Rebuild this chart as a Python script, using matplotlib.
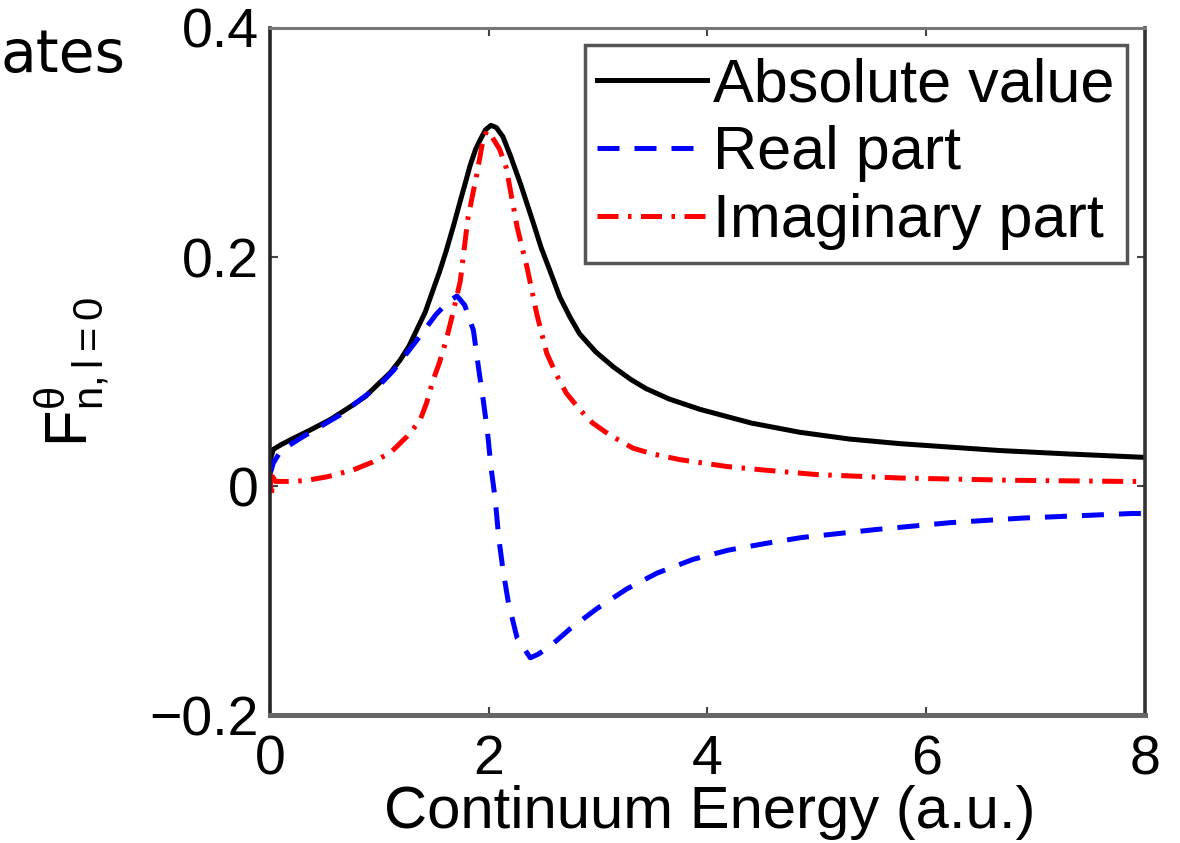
import numpy as np
import matplotlib.pyplot as plt

plt.rcParams['font.family'] = ['Liberation Sans', 'DejaVu Sans']
plt.rcParams['mathtext.fontset'] = 'custom'
plt.rcParams['mathtext.rm'] = 'Liberation Sans'
plt.rcParams['mathtext.it'] = 'Liberation Sans'

# values
energy_abs = [0.0, 0.03, 0.1, 0.2, 0.37, 0.55, 0.73, 0.87, 1.0, 1.1, 1.19, 1.27,
              1.34, 1.42, 1.49, 1.55, 1.61, 1.68, 1.74, 1.79, 1.83, 1.88, 1.92,
              1.97, 2.02, 2.07, 2.13, 2.2, 2.29, 2.41, 2.48, 2.56, 2.65, 2.74,
              2.83, 2.98, 3.14, 3.3, 3.44, 3.65, 3.93, 4.4, 4.84, 5.3, 5.76,
              6.67, 7.3, 8.0]
f_abs = [0.022, 0.032, 0.036, 0.041, 0.049, 0.058, 0.069, 0.078, 0.090, 0.099,
         0.110, 0.122, 0.136, 0.152, 0.171, 0.187, 0.205, 0.228, 0.249, 0.266,
         0.280, 0.294, 0.302, 0.311, 0.315, 0.313, 0.305, 0.288, 0.264, 0.229,
         0.208, 0.188, 0.165, 0.148, 0.133, 0.117, 0.104, 0.093, 0.085, 0.076,
         0.067, 0.055, 0.047, 0.041, 0.037, 0.031, 0.028, 0.025]

energy_re = [0.0, 0.03, 0.1, 0.3, 0.64, 1.0, 1.13, 1.34, 1.52, 1.63, 1.71, 1.78,
             1.86, 1.91, 1.95, 1.99, 2.02, 2.06, 2.09, 2.13, 2.18, 2.26, 2.38,
             2.45, 2.56, 2.74, 2.99, 3.26, 3.54, 3.87, 4.19, 4.54, 4.86, 5.54,
             6.22, 6.88, 7.88, 8.0]
f_re = [0.010, 0.020, 0.031, 0.043, 0.062, 0.088, 0.101, 0.127, 0.150, 0.161,
        0.166, 0.158, 0.136, 0.101, 0.075, 0.046, 0.017, -0.012, -0.044, -0.073,
        -0.102, -0.133, -0.150, -0.147, -0.140, -0.125, -0.107, -0.090, -0.076,
        -0.064, -0.056, -0.050, -0.045, -0.038, -0.032, -0.028, -0.024, -0.024]

energy_im = [0.0, 0.012, 0.025, 0.05, 0.1, 0.21, 0.34, 0.52, 0.76, 0.94, 1.10,
             1.25, 1.37, 1.43, 1.49, 1.55, 1.61, 1.67, 1.74, 1.81, 1.89, 1.94,
             1.98, 2.03, 2.1, 2.16, 2.26, 2.35, 2.44, 2.53, 2.62, 2.71, 2.83,
             2.95, 3.1, 3.32, 3.5, 3.75, 4.18, 4.51, 5.0, 5.76, 6.8, 7.83, 8.0]
f_im = [0.012, -0.010, 0.008, 0.004, 0.004, 0.004, 0.005, 0.008, 0.014, 0.021,
        0.029, 0.043, 0.057, 0.072, 0.092, 0.108, 0.127, 0.150, 0.179, 0.234,
        0.272, 0.298, 0.310, 0.305, 0.294, 0.278, 0.226, 0.191, 0.150, 0.116,
        0.097, 0.081, 0.067, 0.055, 0.045, 0.033, 0.028, 0.023, 0.017, 0.014,
        0.010, 0.007, 0.005, 0.004, 0.004]

labels = ['Absolute value', 'Real part', 'Imaginary part']
xticks = [0, 2, 4, 6, 8]
yticks = [-0.2, 0, 0.2, 0.4]
ytick_labels = ['\u22120.2', '0', '0.2', '0.4']

fig = plt.figure(figsize=(11.8, 8.43), dpi=100)
ax = fig.add_axes([0.2288, 0.1518, 0.7415, 0.815])

lw = 3.6
ax.plot(energy_abs, f_abs, color='black', lw=lw, label=labels[0])
ax.plot(energy_re, f_re, color='#0000ff', lw=lw, dashes=(4.4, 3.0), label=labels[1])
ax.plot(energy_im, f_im, color='#ff0000', lw=lw, dashes=(4.2, 1.9, 0.7, 1.9),
        label=labels[2])

ax.set_xlim(0, 8)
ax.set_ylim(-0.2, 0.4)
ax.set_xticks(xticks)
ax.set_yticks(yticks)
ax.set_yticklabels(ytick_labels)
ax.tick_params(direction='in', length=6, width=1.5, color='#444444',
               labelsize=40, top=True, right=True)
ax.tick_params(axis='x', pad=14)
ax.tick_params(axis='y', pad=8)

ax.spines['left'].set_color('#262626')
ax.spines['left'].set_linewidth(2.6)
ax.spines['right'].set_color('#333333')
ax.spines['right'].set_linewidth(2.6)
ax.spines['top'].set_color('#777777')
ax.spines['top'].set_linewidth(2.2)
ax.spines['bottom'].set_color('#666666')
ax.spines['bottom'].set_linewidth(3.6)

ax.set_xlabel('Continuum Energy (a.u.)', fontsize=43)
ax.xaxis.set_label_coords(0.503, -0.102)
ax.set_ylabel(r'$\mathrm{F}^{\theta}_{n,l=0}$', fontsize=43)
ax.yaxis.set_label_coords(-0.18, 0.5)

leg = ax.legend(loc='upper right', bbox_to_anchor=(0.979, 0.975), fontsize=44,
                frameon=True, fancybox=False, framealpha=1, borderaxespad=0,
                handlelength=1.8, handletextpad=0.1, labelspacing=0.18,
                borderpad=0.2)
leg.get_frame().set_edgecolor('#555555')
leg.get_frame().set_linewidth(2.5)

fig.text(126 / 1180, 1 - 72 / 843, 'ates', fontsize=42, family='DejaVu Sans',
         ha='right', va='baseline')

fig.savefig('out.png', dpi=100)
